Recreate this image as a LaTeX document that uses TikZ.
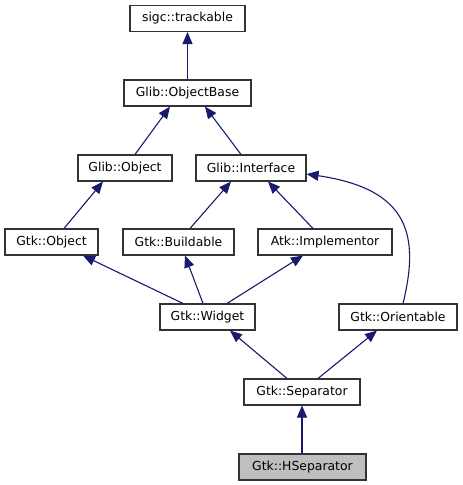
\documentclass[tikz,border=0pt]{standalone}
\usepackage{fontspec}
\setmainfont{DejaVu Sans}
\usetikzlibrary{arrows.meta}
\definecolor{edgeblue}{HTML}{191970}
\definecolor{boxgray}{HTML}{BFBFBF}
\begin{document}
\begin{tikzpicture}[x=1pt,y=-1pt,
  cls/.style={draw=black!80, line width=1.1pt, fill=white, minimum height=26pt, inner sep=0pt,
    font=\fontsize{12.4}{14}\selectfont},
  inh/.style={draw=edgeblue, line width=1.1pt, -{Triangle[length=12pt,width=10pt]}},
]
\useasboundingbox (0,0) rectangle (463,485);
\node[cls, minimum width=115pt] (track) at (187.5,18.5) {sigc::trackable};
\node[cls, minimum width=127pt] (objbase) at (187.5,93) {Glib::ObjectBase};
\node[cls, minimum width=94pt] (glibobj) at (125,168) {Glib::Object};
\node[cls, minimum width=110pt] (iface) at (251,168) {Glib::Interface};
\node[cls, minimum width=93pt] (gtkobj) at (51.5,242) {Gtk::Object};
\node[cls, minimum width=111pt] (build) at (178.5,242) {Gtk::Buildable};
\node[cls, minimum width=134pt] (impl) at (325,242) {Atk::Implementor};
\node[cls, minimum width=95pt] (widget) at (207.5,317) {Gtk::Widget};
\node[cls, minimum width=118pt] (orient) at (398,317) {Gtk::Orientable};
\node[cls, minimum width=116pt] (sep) at (302,392) {Gtk::Separator};
\node[cls, minimum width=127pt, fill=boxgray] (hsep) at (302.5,467) {Gtk::HSeparator};

\draw[inh] (objbase.north) -- (track.south);
\draw[inh] ([xshift=10pt]glibobj.north) -- ([xshift=-17.5pt]objbase.south);
\draw[inh] ([xshift=-10pt]iface.north) -- ([xshift=17.5pt]objbase.south);
\draw[inh] ([xshift=12.5pt]gtkobj.north) -- ([xshift=-22pt]glibobj.south);
\draw[inh] ([xshift=11.5pt]build.north) -- ([xshift=-20pt]iface.south);
\draw[inh] ([xshift=-12pt]impl.north) -- ([xshift=17pt]iface.south);
\draw[inh] ([xshift=5pt]orient.north) .. controls +(17,-69) and +(102,15) .. ([yshift=-6pt]iface.east);
\draw[inh] ([xshift=-24.5pt]widget.north) -- ([xshift=31.5pt]gtkobj.south);
\draw[inh] ([xshift=-4.5pt]widget.north) -- ([xshift=6.5pt]build.south);
\draw[inh] ([xshift=19.5pt]widget.north) -- ([xshift=-22pt]impl.south);
\draw[inh] ([xshift=-15pt]sep.north) -- ([xshift=22.5pt]widget.south);
\draw[inh] ([xshift=16pt]sep.north) -- ([xshift=-21pt]orient.south);
\draw[inh] ([xshift=-0.5pt]hsep.north) -- (sep.south);
\end{tikzpicture}
\end{document}
